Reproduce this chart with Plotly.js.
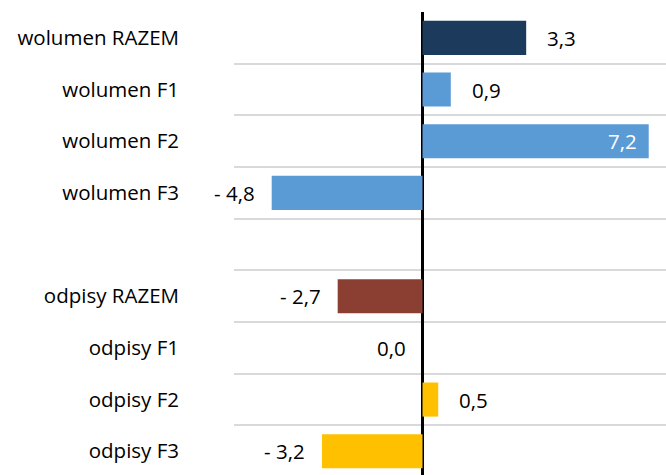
<!DOCTYPE html>
<html>
<head>
<meta charset="utf-8">
<script src="https://cdn.plot.ly/plotly-3.0.1.min.js"></script>
<style>html,body{margin:0;padding:0;background:#fff}#chart{width:666px;height:475px}</style>
</head>
<body>
<div id="chart"></div>
<script>
const categories = ["wolumen RAZEM","wolumen F1","wolumen F2","wolumen F3"," ","odpisy RAZEM","odpisy F1","odpisy F2","odpisy F3"];
const values = [3.3, 0.9, 7.2, -4.8, null, -2.7, 0.0, 0.5, -3.2];
const barColors = ["#1b3a5c","#5b9bd5","#5b9bd5","#5b9bd5","#ffffff","#8b3f32","#ffc000","#ffc000","#ffc000"];
const labelTexts = ["3,3","0,9","7,2","- 4,8","","- 2,7","0,0","0,5","- 3,2"];
const insideLabels = [false,false,true,false,false,false,false,false,false];

const FONT = "'Open Sans', sans-serif";
const FS = 20.5;

const annotations = [];
categories.forEach((c,i)=>{
  const v = values[i];
  if (v === null) return;
  const inside = insideLabels[i];
  let xanchor, xshift, color = "#000";
  if (inside) { xanchor = "right"; xshift = -10; color = "#fff"; }
  else if (v > 0) { xanchor = "left"; xshift = 19; }
  else { xanchor = "right"; xshift = -15; }
  annotations.push({x: v, y: c, xref:"x", yref:"y", text: labelTexts[i], showarrow:false,
    xanchor, xshift, yanchor:"middle", font:{family:FONT, size:FS, color}});
});

const trace = {
  type:"bar", orientation:"h", y: categories, x: values,
  marker:{color: barColors}, width: 0.66, hoverinfo:"none"
};

const layout = {
  width:666, height:475,
  margin:{l:234, r:0, t:12, b:0},
  paper_bgcolor:"#fff", plot_bgcolor:"#fff",
  showlegend:false,
  xaxis:{range:[-6,7.75], showgrid:false, zeroline:true, zerolinecolor:"#000", zerolinewidth:2.5,
    showticklabels:false, ticks:"", fixedrange:true},
  yaxis:{type:"category", range:[8.46,-0.5], tickson:"boundaries", showgrid:true, gridcolor:"#d9d9d9", gridwidth:2,
    ticks:"", ticklabelstandoff:54, tickfont:{family:FONT, size:FS, color:"#000"}, zeroline:false, fixedrange:true},
  annotations
};

Plotly.newPlot("chart",[trace],layout,{staticPlot:true});
</script>
</body>
</html>
